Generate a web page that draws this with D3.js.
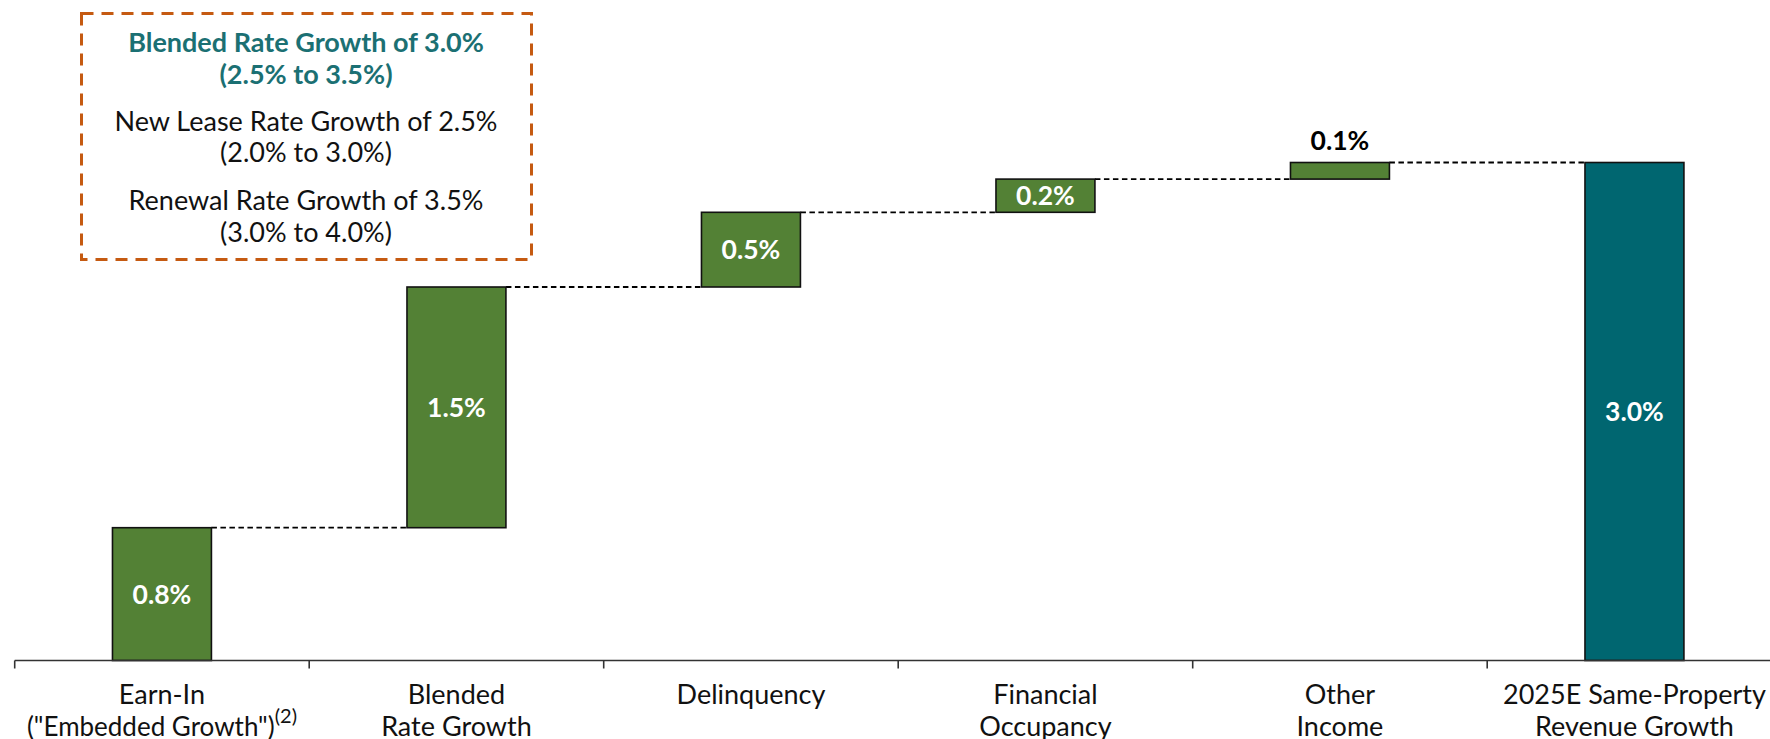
<!DOCTYPE html>
<html>
<head>
<meta charset="utf-8">
<script src="https://cdn.jsdelivr.net/npm/d3@7"></script>
<style>
  html, body { margin: 0; padding: 0; background: #ffffff; }
  svg { display: block; font-family: Lato, "Open Sans", sans-serif; }
</style>
</head>
<body>
<svg id="chart" width="1770" height="739"></svg>
<script>
// ---------- data ----------
const categories = [
  "Earn-In",
  "Blended Rate Growth",
  "Delinquency",
  "Financial Occupancy",
  "Other Income",
  "2025E Same-Property Revenue Growth"
];
const categoryLines = [
  ["Earn-In", "(\"Embedded Growth\")"],
  ["Blended", "Rate Growth"],
  ["Delinquency"],
  ["Financial", "Occupancy"],
  ["Other", "Income"],
  ["2025E Same-Property", "Revenue Growth"]
];
const stepValues = [0.8, 1.45, 0.45, 0.2, 0.1];   // incremental contributions (%)
const totalValue = 3.0;                            // resulting total (%)
const valueLabels = ["0.8%", "1.5%", "0.5%", "0.2%", "0.1%", "3.0%"];
const boxLines = [
  "Blended Rate Growth of 3.0%",
  "(2.5% to 3.5%)",
  "New Lease Rate Growth of 2.5%",
  "(2.0% to 3.0%)",
  "Renewal Rate Growth of 3.5%",
  "(3.0% to 4.0%)"
];

// ---------- styling ----------
const GREEN = "#538135";
const TEAL = "#006670";
const ORANGE = "#C55A11";
const TITLE_TEAL = "#1B7073";

const svg = d3.select("#chart");

const x = d3.scaleBand()
  .domain(categories)
  .range([14.7, 14.7 + 6 * 294.5])
  .padding(0);

const y = d3.scaleLinear()
  .domain([0, 3.0])
  .range([660.5, 162.5]);

const barW = x.bandwidth() * 0.336;

// build waterfall rows
let cum = 0;
const rows = stepValues.map((v, i) => {
  const r = { cat: categories[i], start: cum, end: cum + v, label: valueLabels[i], total: false };
  cum += v;
  return r;
});
rows.push({ cat: categories[5], start: 0, end: totalValue, label: valueLabels[5], total: true });

// connectors
const conn = rows.slice(0, -1).map((r, i) => ({
  x1: x(r.cat) + x.bandwidth() / 2 + barW / 2,
  x2: x(rows[i + 1].cat) + x.bandwidth() / 2 - barW / 2,
  yv: r.end
}));
svg.append("g").selectAll("line").data(conn).join("line")
  .attr("x1", d => d.x1).attr("x2", d => d.x2)
  .attr("y1", d => y(d.yv)).attr("y2", d => y(d.yv))
  .attr("stroke", "#000").attr("stroke-width", 1.8)
  .attr("stroke-dasharray", "5.5 3.5");

// bars
svg.append("g").selectAll("rect").data(rows).join("rect")
  .attr("x", d => x(d.cat) + x.bandwidth() / 2 - barW / 2)
  .attr("width", barW)
  .attr("y", d => y(d.end))
  .attr("height", d => y(d.start) - y(d.end))
  .attr("fill", d => d.total ? TEAL : GREEN)
  .attr("stroke", "#111").attr("stroke-width", 1.6);

// value labels
svg.append("g").selectAll("text").data(rows).join("text")
  .attr("x", d => x(d.cat) + x.bandwidth() / 2)
  .attr("y", d => {
    const h = y(d.start) - y(d.end);
    if (h < 25) return y(d.end) - 13;
    return (y(d.start) + y(d.end)) / 2 + 9.5;
  })
  .attr("text-anchor", "middle")
  .attr("font-size", 26.5)
  .attr("font-weight", 700)
  .attr("fill", d => (y(d.start) - y(d.end)) < 25 ? "#000" : "#fff")
  .text(d => d.label);

// axis line and ticks at band boundaries
const axisY = y(0);
const g = svg.append("g");
g.append("line")
  .attr("x1", x.range()[0]).attr("x2", x.range()[1])
  .attr("y1", axisY).attr("y2", axisY)
  .attr("stroke", "#333").attr("stroke-width", 1.6);
const tickXs = categories.map(c => x(c)).concat([x.range()[1]]);
g.selectAll("line.tick").data(tickXs).join("line")
  .attr("class", "tick")
  .attr("x1", d => d).attr("x2", d => d)
  .attr("y1", axisY).attr("y2", axisY + 8)
  .attr("stroke", "#333").attr("stroke-width", 1.6);

// category labels
const lab = svg.append("g").selectAll("text").data(categories).join("text")
  .attr("x", d => x(d) + x.bandwidth() / 2)
  .attr("y", 704)
  .attr("text-anchor", "middle")
  .attr("font-size", 27)
  .attr("fill", "#111");
lab.each(function (d, i) {
  const t = d3.select(this);
  categoryLines[i].forEach((line, j) => {
    t.append("tspan")
      .attr("x", x(d) + x.bandwidth() / 2)
      .attr("dy", j === 0 ? 0 : 32)
      .attr("font-size", i === 0 && j === 1 ? 26 : null)
      .text(line);
  });
  if (i === 0) {
    t.append("tspan")
      .attr("font-size", 20)
      .attr("dy", -13)
      .text("(2)");
  }
});

// dashed annotation box
svg.append("rect")
  .attr("x", 81.5).attr("y", 13.5)
  .attr("width", 450).attr("height", 246)
  .attr("fill", "none")
  .attr("stroke", ORANGE).attr("stroke-width", 3)
  .attr("stroke-dasharray", "12 8");

const boxY = [52, 83.5, 131, 161.5, 210, 241.5];
svg.append("g").selectAll("text").data(boxLines).join("text")
  .attr("x", 306)
  .attr("y", (d, i) => boxY[i])
  .attr("text-anchor", "middle")
  .attr("font-size", 27)
  .attr("font-weight", (d, i) => i < 2 ? 700 : 400)
  .attr("fill", (d, i) => i < 2 ? TITLE_TEAL : "#111")
  .text(d => d);
</script>
</body>
</html>
